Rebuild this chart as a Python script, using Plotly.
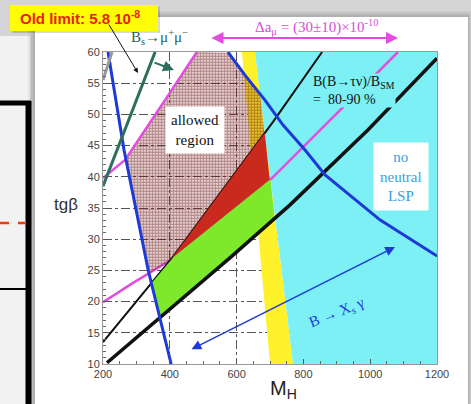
import numpy as np
import plotly.graph_objects as go

# ---------------- data ----------------
X_RANGE = [200, 1200]
Y_RANGE = [10, 60]
x_ticks = [200, 400, 600, 800, 1000, 1200]
y_ticks = [10, 15, 20, 25, 30, 35, 40, 45, 50, 55, 60]

# Delta a_mu band (magenta)
magenta_up_M = [200, 266, 392, 481]
magenta_up_t = [39.8, 42.7, 52.8, 60.0]
magenta_low_M = [200, 290, 392, 706, 916, 1083]
magenta_low_t = [19.9, 23.0, 26.3, 39.8, 51.0, 60.0]
# B(B->tau nu)/B_SM = 80-90 % (black)
black1_M = [200, 341, 407, 709, 856]
black1_t = [13.5, 22.7, 27.0, 48.8, 60.0]
black2_M = [212, 580, 760, 993, 1200]
black2_t = [10.2, 27.0, 35.5, 47.5, 59.0]
# B -> X_s gamma (blue)
blue1_M = [215, 263, 335, 404]
blue1_t = [60.0, 44.3, 25.1, 10.0]
blue2_M = [574, 625, 685, 739, 805, 865, 1029, 1200]
blue2_t = [60.0, 56.3, 52.3, 48.3, 44.3, 40.3, 33.1, 27.3]
# Bs -> mu mu (teal), old limit (grey)
bsmumu_M = [200, 356]
bsmumu_t = [38.5, 60.0]
bsmumu_old_M = [200, 227]
bsmumu_old_t = [55.5, 60.0]
# no neutral LSP edge (cyan) and yellow band edge
lsp_edge_M = [655, 706, 769]
lsp_edge_t = [60.0, 37.5, 10.0]
yellow_edge_M = [616, 700]
yellow_edge_t = [60.0, 10.0]

# ---------------- figure geometry ----------------
W, H = 471, 404
L, R, T, B = 103, 437, 52, 364


def px(x):
    return (x - L) / (R - L)


def py(y):
    return (B - y) / (B - T)


def curve(Ms, ts, x):
    Ms = np.asarray(Ms, float)
    ts = np.asarray(ts, float)
    o = np.argsort(Ms)
    Ms, ts = Ms[o], ts[o]
    y = np.interp(x, Ms, ts)
    lo = x < Ms[0]
    hi = x > Ms[-1]
    y[lo] = ts[0] + (x[lo] - Ms[0]) * (ts[1] - ts[0]) / (Ms[1] - Ms[0])
    y[hi] = ts[-1] + (x[hi] - Ms[-1]) * (ts[-1] - ts[-2]) / (Ms[-1] - Ms[-2])
    return y


Mg = np.arange(X_RANGE[0], X_RANGE[1] + 0.001, 0.25)
mUp = curve(magenta_up_M, magenta_up_t, Mg)
mLo = curve(magenta_low_M, magenta_low_t, Mg)
bk1 = curve(black1_M, black1_t, Mg)
bk2 = curve(black2_M, black2_t, Mg)
bl1 = curve(blue1_M, blue1_t, Mg)
bl2 = curve(blue2_M, blue2_t, Mg)
cyT = curve(lsp_edge_M, lsp_edge_t, Mg)
top = np.full_like(Mg, Y_RANGE[1])
bot = np.full_like(Mg, Y_RANGE[0])


def region(lo, hi):
    ok = hi > lo
    idx = np.where(ok)[0]
    xs, ys = [], []
    if len(idx) == 0:
        return xs, ys
    segs = np.split(idx, np.where(np.diff(idx) != 1)[0] + 1)
    for s in segs:
        if len(s) < 2:
            continue
        xs += list(Mg[s]) + list(Mg[s][::-1]) + [Mg[s][0], None]
        ys += list(hi[s]) + list(lo[s][::-1]) + [hi[s][0], None]
    return xs, ys


fig = go.Figure()

# yellow band
yel_x = [yellow_edge_M[0]] + lsp_edge_M + [yellow_edge_M[-1]]
yel_y = [yellow_edge_t[0]] + lsp_edge_t + [yellow_edge_t[-1]]
fig.add_trace(go.Scatter(x=yel_x + [yel_x[0]], y=yel_y + [yel_y[0]], fill="toself",
                         fillcolor="#fff12a", mode="lines", line=dict(width=0),
                         hoverinfo="skip", showlegend=False))
# cyan: no neutral LSP
cy_x = lsp_edge_M + [X_RANGE[1], X_RANGE[1], lsp_edge_M[0]]
cy_y = lsp_edge_t + [Y_RANGE[0], Y_RANGE[1], lsp_edge_t[0]]
fig.add_trace(go.Scatter(x=cy_x, y=cy_y, fill="toself", fillcolor="#7cf0f4",
                         mode="lines", line=dict(width=0), hoverinfo="skip", showlegend=False))


def add_line(Ms, ts, color, width):
    fig.add_trace(go.Scatter(x=Ms, y=ts, mode="lines", line=dict(color=color, width=width),
                             hoverinfo="skip", showlegend=False))


# lines lying under the coloured regions
add_line(magenta_low_M, magenta_low_t, "#e04de0", 2.5)
add_line(black1_M, black1_t, "#111111", 2)

# hatched allowed region
hx, hy = region(np.maximum.reduce([mLo, bk1, bl1]), np.minimum.reduce([mUp, bl2, cyT, top]))
fig.add_trace(go.Scatter(x=hx, y=hy, fill="toself", mode="lines", line=dict(width=0),
                         fillcolor="rgba(0,0,0,0)",
                         fillpattern=dict(shape=".", fgcolor="#6e1212", bgcolor="rgba(0,0,0,0)",
                                          size=3, solidity=0.75),
                         hoverinfo="skip", showlegend=False))
# red region
rx, ry = region(np.maximum.reduce([mLo, bk2, bl1]), np.minimum.reduce([bk1, mUp, cyT]))
fig.add_trace(go.Scatter(x=rx, y=ry, fill="toself", fillcolor="#c92a1d", mode="lines",
                         line=dict(width=0), hoverinfo="skip", showlegend=False))
# green region
gx, gy = region(np.maximum.reduce([bk2, bl1, bot]), np.minimum.reduce([bk1, mLo, cyT]))
fig.add_trace(go.Scatter(x=gx, y=gy, fill="toself", fillcolor="#7ee82b", mode="lines",
                         line=dict(width=0), hoverinfo="skip", showlegend=False))

# lines on top
add_line(black2_M, black2_t, "#111111", 3.5)
add_line(magenta_up_M, magenta_up_t, "#e04de0", 2.5)
add_line(blue1_M, blue1_t, "#1e3ad6", 3)
add_line(blue2_M, blue2_t, "#1e3ad6", 3)
add_line(bsmumu_M, bsmumu_t, "#2e6e5c", 3)
add_line(bsmumu_old_M, bsmumu_old_t, "#9a9a9a", 3)

serif = "Liberation Serif"
sans = "Liberation Sans"
ann = []


def label(xp, yp, text, font, **kw):
    d = dict(x=px(xp), y=py(yp), xref="paper", yref="paper", text=text, showarrow=False,
             xanchor="center", yanchor="middle", font=font)
    d.update(kw)
    ann.append(d)


def arrow(x0, y0, x1, y1, color, width, both=False, size=1.0):
    d = dict(x=px(x1), y=py(y1), xref="paper", yref="paper", ax=x0 - x1, ay=y0 - y1,
             axref="pixel", ayref="pixel", text="", showarrow=True, arrowhead=2,
             arrowsize=size, arrowwidth=width, arrowcolor=color, standoff=0,
             xanchor="center", yanchor="middle")
    if both:
        d.update(arrowside="end+start", startarrowhead=2, startarrowsize=size, startstandoff=0)
    ann.append(d)


# in-plot labels
label(195, 130, "allowed<br>region", dict(family=serif, size=15, color="#111"),
      bgcolor="white", borderpad=5)
label(401, 176, "no<br>neutral<br>LSP", dict(family=serif, size=15, color="#3b9fe0"),
      bgcolor="white", borderpad=6)
label(312, 90, "B(B→τν)/B<sub>SM</sub><br>=  80-90 %", dict(family=serif, size=14, color="#111"),
      xanchor="left", align="left", bgcolor="#7cf0f4", borderpad=0)
label(337, 313, "B → X<sub>s</sub> γ", dict(family=serif, size=15, color="#1e3ad6"), textangle=-22)
arrow(190, 350, 395, 247, "#1e3ad6", 1.5, both=True, size=1.3)
# outside labels
label(159, 37, "B<sub>s</sub>→μ<sup>+</sup>μ<sup>−</sup>", dict(family=serif, size=15, color="#2a5f5f"))
label(317, 27, "Δa<sub>μ</sub> = (30±10)×10<sup>-10</sup>", dict(family=serif, size=15, color="#d64fd6"))
arrow(210, 38, 398, 38, "#e04de0", 2, both=True, size=1.2)
label(80, 18, "<b>Old limit: 5.8 10<sup>-8</sup></b>", dict(family=sans, size=15, color="#e3221b"))
arrow(108, 23, 138, 73, "#111", 1, size=1)
arrow(153, 62, 174, 70, "#2e6e5c", 2, size=1.1)
# axis titles
label(66, 204, "tgβ", dict(family=sans, size=17, color="#333"))
label(283, 389, "M<sub>H</sub>", dict(family=sans, size=20, color="#222"))

shapes = []


def rect(x0, y0, x1, y1, color, layer="below"):
    shapes.append(dict(type="rect", xref="paper", yref="paper", x0=px(x0), x1=px(x1),
                       y0=py(y1), y1=py(y0), fillcolor=color, line=dict(width=0), layer=layer))


def seg(x0, y0, x1, y1, color, width, dash="solid"):
    shapes.append(dict(type="line", xref="paper", yref="paper", x0=px(x0), x1=px(x1),
                       y0=py(y0), y1=py(y1), line=dict(color=color, width=width, dash=dash),
                       layer="above"))


rect(0, 36, 30, 404, "#f2f2f2")
rect(28, 11, 471, 404, "rgba(0,0,0,0.05)")
rect(31, 13, 470, 404, "rgba(0,0,0,0.06)")
rect(33, 15, 469, 404, "rgba(0,0,0,0.07)")
rect(35, 17, 468, 404, "white")
seg(0, 103, 31, 103, "#000", 5)
seg(28.5, 101, 28.5, 404, "#000", 6)
seg(0, 289, 26, 289, "#000", 2)
seg(0, 223, 25, 223, "#f03a10", 2.5, "dash")
rect(12, 7, 160, 33, "rgba(0,0,0,0.15)", layer="above")
rect(10, 5, 158, 31, "#ffff00", layer="above")

axis_common = dict(ticks="inside", ticklen=5, tickcolor="#555", showgrid=True, gridcolor="#555",
                   griddash="dashdot", gridwidth=1, showline=True, mirror=True,
                   linecolor="#999", linewidth=1, zeroline=False,
                   tickfont=dict(family=sans, size=11, color="#444"))
fig.update_xaxes(range=X_RANGE, tickvals=x_ticks,
                 minor=dict(dtick=50, ticks="inside", ticklen=3, tickcolor="#666", showgrid=False),
                 **axis_common)
fig.update_yaxes(range=Y_RANGE, tickvals=y_ticks,
                 minor=dict(dtick=1, ticks="inside", ticklen=3, tickcolor="#666", showgrid=False),
                 **axis_common)
fig.update_layout(width=W, height=H, autosize=False,
                  margin=dict(l=L, r=W - R, t=T, b=H - B),
                  paper_bgcolor="#d4d4d4", plot_bgcolor="white",
                  annotations=ann, shapes=shapes, showlegend=False)
fig.write_html("out.html")
